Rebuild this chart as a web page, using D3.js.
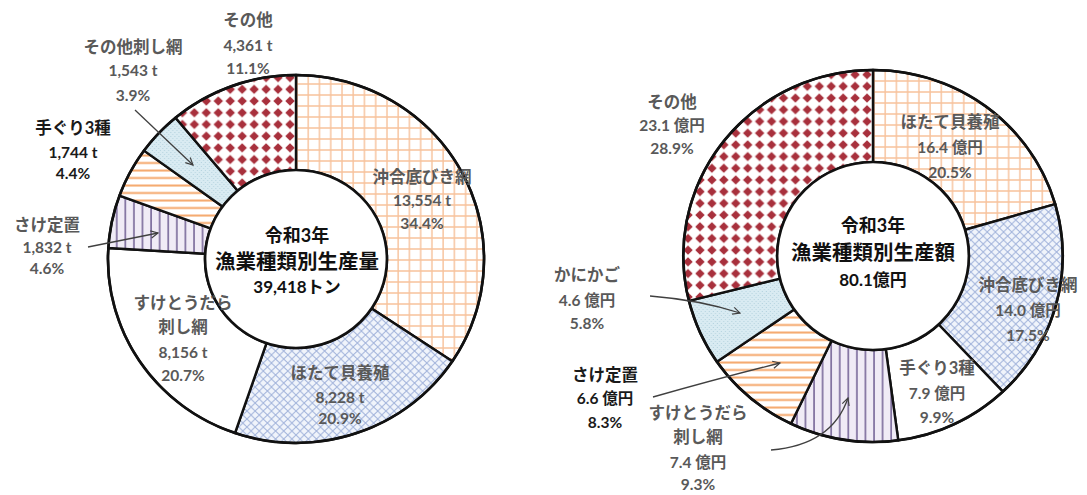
<!DOCTYPE html>
<html>
<head>
<meta charset="utf-8">
<script src="https://cdn.jsdelivr.net/npm/d3@7"></script>
<style>
  body { margin: 0; background: #fff; }
  svg { display: block; }
</style>
</head>
<body>
<div id="chart"></div>
<script>
// 生産量 (t)
var leftNames = ["沖合底びき網", "ほたて貝養殖", "すけとうだら\n刺し網", "さけ定置", "手ぐり3種", "その他刺し網", "その他"];
var leftValues = [13554, 8228, 8156, 1832, 1744, 1543, 4361];
var leftPct = ["34.4%", "20.9%", "20.7%", "4.6%", "4.4%", "3.9%", "11.1%"];
var leftFills = ["grid", "cross", "white", "vert", "horiz", "dots", "diamond"];

// 生産額 (億円)
var rightNames = ["ほたて貝養殖", "沖合底びき網", "手ぐり3種", "すけとうだら\n刺し網", "さけ定置", "かにかご", "その他"];
var rightValues = [16.4, 14.0, 7.9, 7.4, 6.6, 4.6, 23.1];
var rightPct = ["20.5%", "17.5%", "9.9%", "9.3%", "8.3%", "5.8%", "28.9%"];
var rightFills = ["grid", "cross", "white", "vert", "horiz", "dots", "diamond"];
var rightTotal = 80.1;

var W = 1087, H = 495;
var font = "Lato, 'Noto Sans CJK JP', sans-serif";

var svg = d3.select("#chart").append("svg")
    .attr("width", W)
    .attr("height", H);

var defs = svg.append("defs");

function pattern(id, w, h, bg) {
    var p = defs.append("pattern")
        .attr("id", id)
        .attr("patternUnits", "userSpaceOnUse")
        .attr("width", w)
        .attr("height", h);
    p.append("rect").attr("width", w).attr("height", h).attr("fill", bg);
    return p;
}

var p1 = pattern("grid", 11, 11, "#ffffff");
p1.append("path").attr("d", "M0,1 H11 M1,0 V11")
    .attr("stroke", "#f7c29c").attr("stroke-width", 1.4);

var p2 = pattern("cross", 8, 8, "#f0f4fb");
p2.append("path").attr("d", "M0,0 L8,8 M8,0 L0,8")
    .attr("stroke", "#a4b5dc").attr("stroke-width", 1);

var p3 = pattern("vert", 8.4, 8, "#f0ebf6");
p3.append("path").attr("d", "M1,0 V8")
    .attr("stroke", "#5f4d86").attr("stroke-width", 1.3);

var p4 = pattern("horiz", 8, 7.5, "#ffffff");
p4.append("path").attr("d", "M0,1.5 H8")
    .attr("stroke", "#f5a86c").attr("stroke-width", 2);

var p5 = pattern("dots", 4, 4, "#d9ebf2");
p5.append("rect").attr("x", 1).attr("y", 1).attr("width", 1).attr("height", 1).attr("fill", "#b5d3df");
p5.append("rect").attr("x", 3).attr("y", 3).attr("width", 1).attr("height", 1).attr("fill", "#b5d3df");

var p6 = pattern("diamond", 11.7, 11.7, "#ffffff");
p6.append("path").attr("d", "M5.85,1.2 L10.5,5.85 L5.85,10.5 L1.2,5.85Z")
    .attr("fill", "#a8303c");

function fillOf(k) {
    return k === "white" ? "#ffffff" : "url(#" + k + ")";
}

// arrow head
defs.append("marker")
    .attr("id", "arrow")
    .attr("viewBox", "0 0 10 10")
    .attr("refX", 9).attr("refY", 5)
    .attr("markerWidth", 9).attr("markerHeight", 9)
    .attr("markerUnits", "userSpaceOnUse")
    .attr("orient", "auto")
    .append("path")
    .attr("d", "M1,1 L9,5 L1,9")
    .attr("fill", "none")
    .attr("stroke", "#404040")
    .attr("stroke-width", 1.3);

function donut(cx, cy, r, inner, sx, values, fills) {
    var pie = d3.pie().sort(null).value(function(d) { return d; });
    var arc = d3.arc().innerRadius(inner).outerRadius(r);

    var g = svg.append("g")
        .attr("transform", "translate(" + cx + "," + cy + ") scale(" + sx + ",1)");

    g.selectAll("path.slice")
        .data(pie(values))
        .enter()
        .append("path")
        .attr("class", "slice")
        .attr("d", arc)
        .attr("fill", function(d, i) { return fillOf(fills[i]); })
        .attr("stroke", "#111")
        .attr("stroke-width", 2.4)
        .attr("stroke-linejoin", "round");
    g.append("circle").attr("r", r).attr("fill", "none")
        .attr("stroke", "#111").attr("stroke-width", 2.6);
    g.append("circle").attr("r", inner).attr("fill", "#fff")
        .attr("stroke", "#111").attr("stroke-width", 2.6);
}

function label(x, ys, lines, color) {
    var t = svg.append("g");
    lines.forEach(function(s, i) {
        var isName = i < lines.length - 2;
        t.append("text")
            .attr("x", x)
            .attr("y", ys[i])
            .attr("text-anchor", "middle")
            .attr("dominant-baseline", "central")
            .attr("font-family", font)
            .attr("font-size", isName ? 16.5 : 15.5)
            .attr("font-weight", "bold")
            .attr("fill", color)
            .text(s);
    });
}

function arrow(d) {
    svg.append("path")
        .attr("d", d)
        .attr("fill", "none")
        .attr("stroke", "#404040")
        .attr("stroke-width", 1.3)
        .attr("marker-end", "url(#arrow)");
}

function center(x, ys, lines, sizes) {
    lines.forEach(function(s, i) {
        svg.append("text")
            .attr("x", x)
            .attr("y", ys[i])
            .attr("text-anchor", "middle")
            .attr("dominant-baseline", "central")
            .attr("font-family", font)
            .attr("font-size", sizes[i])
            .attr("font-weight", "bold")
            .attr("fill", "#111")
            .text(s);
    });
}

// ---- left donut : 生産量
donut(296, 259, 184, 89, 1.022, leftValues, leftFills);

var fmtT = d3.format(",");
var leftPos = [
    [422, [177, 200, 223]],
    [340, [373, 397, 418]],
    [183, [303, 327, 352, 375]],
    [47, [225, 247, 268]],
    [73, [128, 152, 173]],
    [133, [47, 70, 95]],
    [248, [20, 45, 68]]
];
var leftColors = ["#595959", "#595959", "#595959", "#595959", "#1a1a1a", "#595959", "#595959"];
leftNames.forEach(function(n, i) {
    var lines = n.split("\n").concat([fmtT(leftValues[i]) + " t", leftPct[i]]);
    label(leftPos[i][0], leftPos[i][1], lines, leftColors[i]);
});
arrow("M135,110 L193,165");
arrow("M88,247 L158,233");

center(297, [235, 261, 286], ["令和3年", "漁業種類別生産量", fmtT(d3.sum(leftValues)) + "トン"], [18, 20.5, 17]);

// ---- right donut : 生産額
donut(873, 256, 186, 94, 1.02, rightValues, rightFills);

var rightPos = [
    [950, [122, 147, 172]],
    [1028, [285, 310, 335]],
    [937, [368, 393, 417]],
    [698, [413, 437, 462, 484]],
    [605, [375, 398, 422]],
    [587, [275, 300, 323]],
    [672, [102, 125, 148]]
];
var rightColors = ["#595959", "#595959", "#595959", "#595959", "#1a1a1a", "#595959", "#595959"];
rightNames.forEach(function(n, i) {
    var lines = n.split("\n").concat([rightValues[i].toFixed(1) + " 億円", rightPct[i]]);
    label(rightPos[i][0], rightPos[i][1], lines, rightColors[i]);
});
arrow("M650,296 Q700,300 740,313");
arrow("M653,397 Q720,378 780,363");
arrow("M771,450 Q832,445 848,398");

center(873, [225, 252, 279], ["令和3年", "漁業種類別生産額", rightTotal.toFixed(1) + "億円"], [18, 20.5, 17]);
</script>
</body>
</html>
